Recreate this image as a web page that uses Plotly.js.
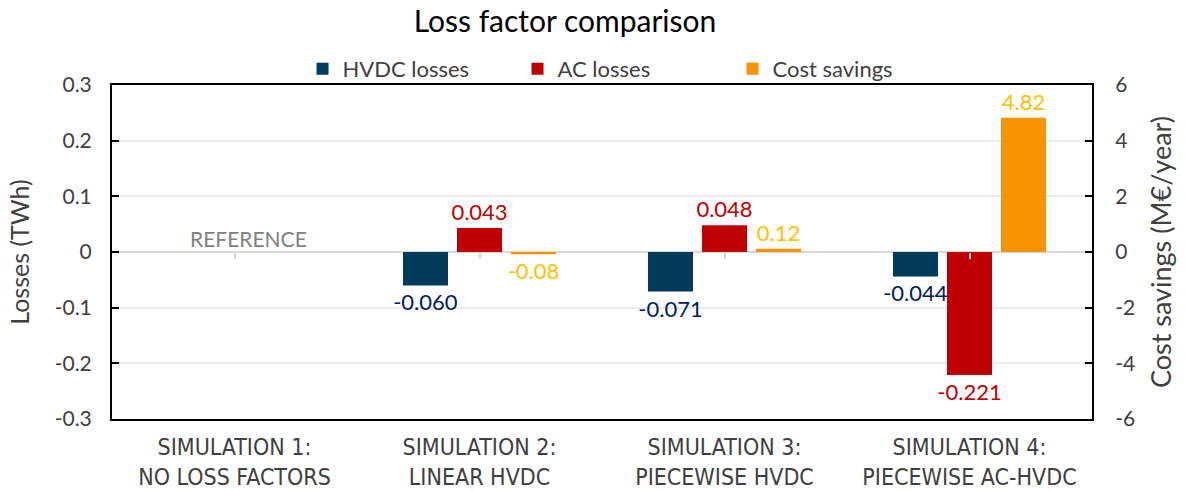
<!DOCTYPE html>
<html><head><meta charset="utf-8">
<script src="https://cdn.plot.ly/plotly-3.0.1.min.js"></script>
<style>html,body{margin:0;padding:0;background:#fff}#c{width:1185px;height:491px}</style>
</head><body><div id="c"></div>
<script>
const categories = ["SIMULATION 1:<br>NO LOSS FACTORS","SIMULATION 2:<br>LINEAR HVDC","SIMULATION 3:<br>PIECEWISE HVDC","SIMULATION 4:<br>PIECEWISE AC-HVDC"];
const hvdcLosses = [0, -0.060, -0.071, -0.044];
const acLosses = [0, 0.043, 0.048, -0.221];
const costSavings = [0, -0.08, 0.12, 4.82];
const hvdcText = ["", "-0.060", "-0.071", "-0.044"];
const acText = ["", "0.043", "0.048", "-0.221"];
const costText = ["", "-0.08", "0.12", "4.82"];
const refLabel = "REFERENCE";
const lossTicks = [-0.3, -0.2, -0.1, 0, 0.1, 0.2, 0.3];
const lossTickText = ["-0.3", "-0.2", "-0.1", "0", "0.1", "0.2", "0.3"];
const costTicks = [-6, -4, -2, 0, 2, 4, 6];
const costTickText = ["-6", "-4", "-2", "0", "2", "4", "6"];

const F = "Lato, 'Open Sans', sans-serif";
const W = 45/245, step = 54/245;
const common = {type:'bar', textposition:'outside', cliponaxis:false, constraintext:'none', hoverinfo:'y', width:W, x:categories};
const traces = [
 Object.assign({}, common, {name:'HVDC losses', y:hvdcLosses, text:hvdcText,
  marker:{color:'#003b5c'}, textfont:{color:'#002060', size:22, family:F}, offset:-step-W/2, yaxis:'y'}),
 Object.assign({}, common, {name:'AC losses', y:acLosses, text:acText,
  marker:{color:'#c00000'}, textfont:{color:'#c00000', size:22, family:F}, offset:-W/2, yaxis:'y'}),
 Object.assign({}, common, {name:'Cost savings', y:costSavings, text:costText,
  marker:{color:'#f59300'}, textfont:{color:'#ffc000', size:22, family:F}, offset:step-W/2, yaxis:'y2'}),
 {type:'scatter', x:categories, y:[0,0,0,0], xaxis:'x2', yaxis:'y', mode:'none', showlegend:false, hoverinfo:'skip'}
];
const layout = {
 width:1185, height:491,
 margin:{l:112, r:93, t:85, b:72},
 paper_bgcolor:'#fff', plot_bgcolor:'#fff',
 font:{family:F, color:'#404040', size:21},
 title:{text:'Loss factor comparison', x:565/1185, xref:'container', xanchor:'center', y:0.957, yref:'container', yanchor:'middle', font:{size:30, color:'#000', family:F}},
 barmode:'overlay',
 showlegend:true,
 legend:{orientation:'h', x:0.5235, xanchor:'center', y:0.985, yanchor:'bottom', bgcolor:'rgba(0,0,0,0)', font:{size:22, color:'#404040', family:F},
  itemwidth:30, traceorder:'normal', entrywidth:170, entrywidthmode:'pixels'},
 xaxis:{type:'category', showline:true, mirror:true, linecolor:'#000', linewidth:2, ticks:'', showgrid:false,
  tickfont:{family:"'Liberation Sans Narrow', 'DejaVu Sans Condensed', sans-serif", size:23, color:'#404040'}, ticklabelstandoff:6},
 xaxis2:{type:'category', overlaying:'x', matches:'x', anchor:'free', position:0.5, showticklabels:false, showline:false,
  ticks:'outside', ticklen:6, tickwidth:2, tickcolor:'#d9d9d9', showgrid:false},
 yaxis:{range:[-0.3,0.3], tickvals:lossTicks, ticktext:lossTickText, showline:true, linecolor:'#000', linewidth:2, ticks:'inside', ticklen:7, tickwidth:2, tickcolor:'#000',
  gridcolor:'#ebebeb', gridwidth:2, zeroline:true, zerolinecolor:'#d9d9d9', zerolinewidth:2,
  title:{text:'Losses (TWh)', font:{size:25, color:'#404040'}, standoff:18}, tickfont:{size:21, color:'#404040'}, ticklabelstandoff:14},
 yaxis2:{range:[-6,6], tickvals:costTicks, ticktext:costTickText, overlaying:'y', side:'right', showline:true, linecolor:'#000', linewidth:2, ticks:'inside', ticklen:7, tickwidth:2, tickcolor:'#000',
  showgrid:false, zeroline:false, title:{text:'Cost savings (M€/year)', font:{size:27, color:'#404040'}, standoff:18}, tickfont:{size:21, color:'#404040'}, ticklabelstandoff:17},
 annotations:[{x:categories[0], y:0, xref:'x', yref:'y', text:refLabel, showarrow:false, yanchor:'bottom', yshift:-1, xshift:14, font:{size:21, color:'#808080', family:F}}]
};
Plotly.newPlot('c', traces, layout, {displayModeBar:false, staticPlot:true});
</script></body></html>
